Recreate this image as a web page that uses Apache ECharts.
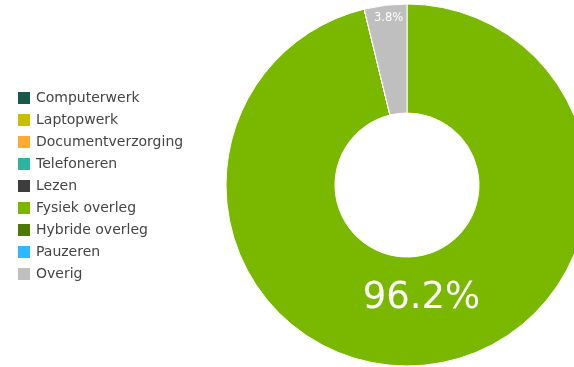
<!DOCTYPE html>
<html>
<head>
<meta charset="utf-8">
<script src="https://cdn.jsdelivr.net/npm/echarts@6/dist/echarts.min.js"></script>
<style>
  html, body { margin: 0; padding: 0; background: #fff; }
  #chart { width: 574px; height: 367px; }
</style>
</head>
<body>
<div id="chart"></div>
<script>
// categorieën en percentages
var categories = ['Computerwerk', 'Laptopwerk', 'Documentverzorging', 'Telefoneren', 'Lezen',
  'Fysiek overleg', 'Hybride overleg', 'Pauzeren', 'Overig'];
var values = [0, 0, 0, 0, 0, 96.2, 0, 0, 3.8];
var colors = ['#17594a', '#c6bf00', '#ffa832', '#2bb5a0', '#3d3d3d',
  '#7ab800', '#4d7a00', '#2eb8ff', '#bfbfbf'];

var chart = echarts.init(document.getElementById('chart'));

var pieData = categories.map(function (name, i) {
  var item = { name: name, value: values[i], itemStyle: { color: colors[i] } };
  if (values[i] === 0) {
    item.label = { show: false };
  } else if (values[i] < 10) {
    // kleine waarde: label bovenaan de ring
    item.label = { fontSize: 11.5, offset: [-3, -38] };
  }
  return item;
});

chart.setOption({
  animation: false,
  legend: {
    orient: 'vertical',
    left: 11,
    top: 85,
    icon: 'rect',
    itemWidth: 14,
    itemHeight: 14,
    itemGap: 6,
    textStyle: { fontFamily: 'DejaVu Sans', fontSize: 14, lineHeight: 16, color: '#444' },
    data: categories
  },
  series: [{
    type: 'pie',
    center: [407, 185],
    radius: [72, 181],
    startAngle: 90,
    clockwise: true,
    avoidLabelOverlap: false,
    itemStyle: { borderColor: '#fff', borderWidth: 1 },
    label: {
      show: true,
      position: 'inside',
      color: '#fff',
      fontFamily: 'DejaVu Sans',
      fontSize: 37,
      offset: [-1, -15],
      formatter: function (p) { return p.value.toFixed(1) + '%'; }
    },
    labelLine: { show: false },
    data: pieData
  }]
});
</script>
</body>
</html>
